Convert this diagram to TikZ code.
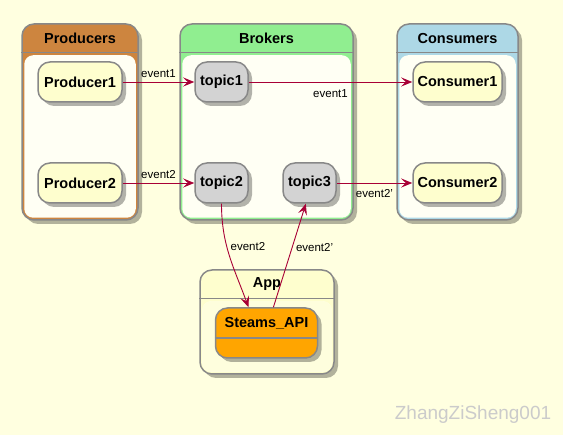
\documentclass[tikz,border=0pt]{standalone}
\usepackage{fontspec}
\setmainfont{Liberation Sans}
\usepackage{tikz}
\usetikzlibrary{arrows.meta, shadows, calc}

\definecolor{bg}{HTML}{FFFFE0}
\definecolor{bodyfill}{HTML}{FFFFF4}
\definecolor{linegray}{HTML}{888888}
\definecolor{arrowred}{HTML}{A80036}
\definecolor{peru}{HTML}{CD853F}
\definecolor{lightgreen}{HTML}{90EE90}
\definecolor{lightblue}{HTML}{ADD8E6}
\definecolor{paleyellow}{HTML}{FEFECE}
\definecolor{topicgray}{HTML}{D3D3D3}
\definecolor{apiorange}{HTML}{FFA500}
\definecolor{markgray}{HTML}{CBCBCB}

\begin{document}
\begin{tikzpicture}[x=1pt, y=1pt,
	every node/.style={font=\fontsize{14.5}{16}\selectfont\bfseries},
	shade drop/.style={drop shadow={shadow xshift=4pt, shadow yshift=-4pt, fill=black, opacity=0.3}},
	cluster/.style={draw=linegray, line width=1.5pt, rounded corners=12, shade drop},
	statebox/.style={draw=linegray, line width=1.5pt, rounded corners=12, minimum height=40, shade drop},
	flow/.style={draw=arrowred, line width=0.9pt, -{Stealth[length=11pt, width=9pt, inset=4.5pt]}},
	evlabel/.style={font=\fontsize{11.5}{13}\selectfont, text=black}
]
	\useasboundingbox [fill=bg] (0,0) rectangle (563,-435);
	
	% the three groups and the app
	\node [cluster, fill=peru, minimum width=116, minimum height=196] (producers) at (80,-122) {};
	\node [cluster, fill=lightgreen, minimum width=173, minimum height=196] (brokers) at (266.5,-122) {};
	\node [cluster, fill=lightblue, minimum width=121, minimum height=196] (consumers) at (457.5,-122) {};
	\node [cluster, fill=paleyellow, minimum width=134, minimum height=104] (app) at (267,-322) {};
	
	\foreach \grp/\title in {producers/Producers, brokers/Brokers, consumers/Consumers, app/App}
	{
		\fill [bodyfill, rounded corners=9] ($(\grp.north west)+(3,-32)$) rectangle ($(\grp.south east)+(-3,3)$);
		\draw [linegray, line width=1pt] ($(\grp.north west)+(0,-29)$) -- ($(\grp.north east)+(0,-29)$);
		\node at ($(\grp.north)+(0,-15)$) {\title};
	}
	\fill [paleyellow!60!bodyfill, rounded corners=9] ($(app.north west)+(3,-32)$) rectangle ($(app.south east)+(-3,3)$);
	
	% states
	\node [statebox, fill=paleyellow, minimum width=84] (producer1) at (80,-82) {Producer1};
	\node [statebox, fill=paleyellow, minimum width=84] (producer2) at (80,-183) {Producer2};
	
	\node [statebox, fill=topicgray, minimum width=53] (topic1) at (221.5,-82) {topic1};
	\node [statebox, fill=topicgray, minimum width=53] (topic2) at (221.5,-183) {topic2};
	\node [statebox, fill=topicgray, minimum width=53] (topic3) at (309.5,-183) {topic3};
	
	\node [statebox, fill=paleyellow, minimum width=89] (consumer1) at (457.5,-82) {Consumer1};
	\node [statebox, fill=paleyellow, minimum width=89] (consumer2) at (457.5,-183) {Consumer2};
	
	\node [statebox, fill=apiorange, minimum width=102, minimum height=50] (api) at (266.5,-333) {};
	\node (api title) at ($(api.north)+(0,-16)$) {Steams\_API};
	\draw [linegray, line width=1.5pt] ($(api.west)+(0,-5)$) -- ($(api.east)+(0,-5)$);
	
	% events
	\draw [flow] (producer1) -- (topic1) node [midway, above=1pt, evlabel] {event1};
	\draw [flow] (topic1) -- (consumer1) node [midway, below=4pt, evlabel] {event1};
	\draw [flow] (producer2) -- (topic2) node [midway, above=1pt, evlabel] {event2};
	\draw [flow] (topic3) -- (consumer2) node [midway, below=3pt, evlabel] {event2'};
	
	\draw [flow] (topic2.south) to [out=-90, in=110] node [pos=0.4, right, evlabel] {event2} (api.125);
	\draw [flow] (api.75) -- (topic3.260) node [pos=0.58, right, evlabel] {event2'};
	
	\node [font=\fontsize{19}{22}\selectfont, text=markgray] (mark) at (473,-415) {ZhangZiSheng001};
\end{tikzpicture}
\end{document}
